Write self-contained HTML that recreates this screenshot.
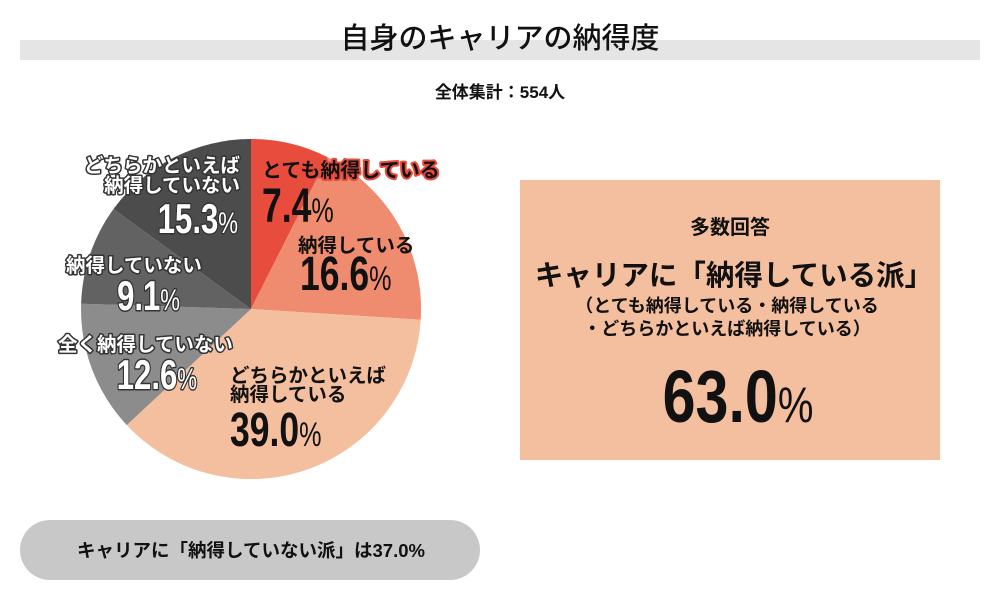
<!DOCTYPE html>
<html><head><meta charset="utf-8"><style>
body{margin:0;width:1000px;height:600px;background:#fff;overflow:hidden;font-family:"Liberation Sans","Noto Sans CJK JP",sans-serif}
</style></head><body>
<svg width="1000" height="600" xmlns="http://www.w3.org/2000/svg" font-family="Liberation Sans, Noto Sans CJK JP, sans-serif">
<rect x="20" y="40" width="960" height="20" fill="#e5e5e5"/>
<text x="500" y="48" text-anchor="middle" font-size="29" font-weight="500" fill="#111">自身のキャリアの納得度</text>
<text x="500" y="98" text-anchor="middle" font-size="17" font-weight="bold" fill="#111">全体集計：554人</text>
<g transform="translate(251,309)">
<path d="M0,0 L0,-170 A170,170 0 0 1 76.6,-151.8 Z" fill="#e84c3c"/>
<path d="M0,0 L76.6,-151.8 A170,170 0 0 1 169.7,10.7 Z" fill="#ef8b6e"/>
<path d="M0,0 L169.7,10.7 A170,170 0 0 1 -124.2,116.1 Z" fill="#f4bf9e"/>
<path d="M0,0 L-124.2,116.1 A170,170 0 0 1 -169.9,-5.3 Z" fill="#8c8c8c"/>
<path d="M0,0 L-169.9,-5.3 A170,170 0 0 1 -137.5,-100 Z" fill="#626262"/>
<path d="M0,0 L-137.5,-100 A170,170 0 0 1 0,-170 Z" fill="#4c4c4c"/>
</g>
<g font-weight="bold" paint-order="stroke" stroke-linejoin="round">
<g fill="#111" stroke="#e84c3c" stroke-width="4">
<text x="262" y="177" font-size="20">とても納得している</text>
</g>
<g fill="#111">
<text x="298" y="252" font-size="19.5">納得している</text>
<text x="230" y="382" font-size="19.5">どちらかといえば</text>
<text x="230" y="401" font-size="19.5">納得している</text>
<text transform="translate(262,222) scale(0.74,1)" font-size="48">7.4<tspan font-size="34" font-weight="normal">%</tspan></text>
<text transform="translate(300,290) scale(0.74,1)" font-size="48">16.6<tspan font-size="34" font-weight="normal">%</tspan></text>
<text transform="translate(230,446) scale(0.74,1)" font-size="48">39.0<tspan font-size="34" font-weight="normal">%</tspan></text>
</g>
<g fill="#fff" stroke="#333" stroke-width="3">
<text x="240" y="172" font-size="19.5" text-anchor="end">どちらかといえば</text>
<text x="240" y="192" font-size="19.5" text-anchor="end">納得していない</text>
<text transform="translate(238,233) scale(0.74,1)" font-size="42" text-anchor="end">15.3<tspan font-size="30" font-weight="normal">%</tspan></text>
<text x="66" y="272" font-size="19.5">納得していない</text>
<text transform="translate(180,310) scale(0.74,1)" font-size="42" text-anchor="end">9.1<tspan font-size="30" font-weight="normal">%</tspan></text>
<text x="58" y="351" font-size="19.5">全く納得していない</text>
<text transform="translate(197,389) scale(0.74,1)" font-size="42" text-anchor="end">12.6<tspan font-size="30" font-weight="normal">%</tspan></text>
</g>
</g>
<rect x="520" y="180" width="420" height="280" fill="#f4bf9e"/>
<text x="730" y="234" text-anchor="middle" font-size="20" font-weight="bold" fill="#111">多数回答</text>
<text x="734" y="285" text-anchor="middle" font-size="28.5" font-weight="bold" fill="#111">キャリアに「納得している派」</text>
<text x="727" y="312" text-anchor="middle" font-size="18" font-weight="bold" fill="#111">（とても納得している・納得している</text>
<text x="727" y="335" text-anchor="middle" font-size="18" font-weight="bold" fill="#111">・どちらかといえば納得している）</text>
<text transform="translate(738,422) scale(0.8,1)" text-anchor="middle" font-size="74" font-weight="bold" fill="#111">63.0<tspan font-size="50" font-weight="normal">%</tspan></text>
<rect x="20" y="520" width="460" height="60" rx="30" fill="#c8c8c8"/>
<text x="251" y="557" text-anchor="middle" font-size="18.5" font-weight="bold" fill="#111">キャリアに「納得していない派」は37.0%</text>
</svg>
</body></html>
